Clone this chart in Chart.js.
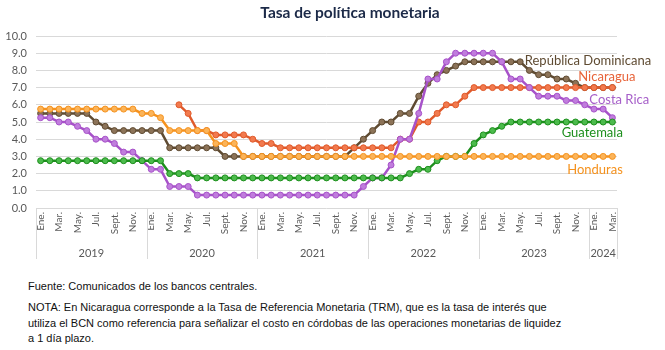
<!DOCTYPE html>
<html><head><meta charset="utf-8">
<script src="https://cdn.jsdelivr.net/npm/chart.js@4.4.1/dist/chart.umd.min.js"></script>
<style>
html,body{margin:0;padding:0;background:#fff;width:665px;height:350px;overflow:hidden;}
#wrap{position:absolute;left:0;top:0;width:665px;height:270px;}
#title{position:absolute;left:0;width:700px;top:3px;text-align:center;font:bold 15.5px Lato;color:#1c2a48;}
.foot{position:absolute;left:28px;font:11px "Liberation Sans Narrow","Liberation Sans";color:#111;white-space:nowrap;line-height:14px;}
</style></head>
<body>
<div id="wrap"><canvas id="c" width="665" height="270"></canvas></div>
<div id="title">Tasa de política monetaria</div>
<div class="foot" style="top:279px">Fuente: Comunicados de los bancos centrales.</div>
<div class="foot" style="top:300px">NOTA: En Nicaragua corresponde a la Tasa de Referencia Monetaria (TRM), que es la tasa de interés que</div>
<div class="foot" style="top:316px">utiliza el BCN como referencia para señalizar el costo en córdobas de las operaciones monetarias de liquidez</div>
<div class="foot" style="top:331px">a 1 día plazo.</div>
<script>
const monthTicks = ['Ene.','','Mar.','','May.','','Jul.','','Sept.','','Nov.',''];
const years = ['2019','2020','2021','2022','2023','2024'];
const monthsPerYear = [12,12,12,12,12,3];
const yTicks = [0,1,2,3,4,5,6,7,8,9,10];

const republicaDominicana = [
 5.5,5.5,5.5,5.5,5.5,5.5,5,4.75,4.5,4.5,4.5,4.5,
 4.5,4.5,3.5,3.5,3.5,3.5,3.5,3.5,3,3,3,3,
 3,3,3,3,3,3,3,3,3,3,3.5,4,
 4.5,5,5,5.5,5.5,6.5,7.25,7.75,8,8.25,8.5,8.5,
 8.5,8.5,8.5,8.5,8.5,8,7.75,7.75,7.5,7.5,7.25,7,
 7,7,7];
const nicaragua = [
 null,null,null,null,null,null,null,null,null,null,null,null,
 null,null,null,6,5.5,4.5,4.5,4.25,4.25,4.25,4.25,4,
 3.75,3.75,3.5,3.5,3.5,3.5,3.5,3.5,3.5,3.5,3.5,3.5,
 3.5,3.5,3.5,4,4,5,5,5.5,6,6,6.5,7,
 7,7,7,7,7,7,7,7,7,7,7,7,
 7,7,7];
const costaRica = [
 5.25,5.25,5,5,4.75,4.5,4,4,3.75,3.25,3.25,2.75,
 2.25,2.25,1.25,1.25,1.25,0.75,0.75,0.75,0.75,0.75,0.75,0.75,
 0.75,0.75,0.75,0.75,0.75,0.75,0.75,0.75,0.75,0.75,0.75,1.25,
 1.75,1.75,2.5,4,4,5.5,7.5,7.5,8.5,9,9,9,
 9,9,8.5,7.5,7.5,7,6.5,6.5,6.5,6.25,6.25,6,
 5.75,5.75,5.25];
const guatemala = [
 2.75,2.75,2.75,2.75,2.75,2.75,2.75,2.75,2.75,2.75,2.75,2.75,
 2.75,2.75,2,2,2,1.75,1.75,1.75,1.75,1.75,1.75,1.75,
 1.75,1.75,1.75,1.75,1.75,1.75,1.75,1.75,1.75,1.75,1.75,1.75,
 1.75,1.75,1.75,1.75,2,2.25,2.25,2.75,3,3,3,3.75,
 4.25,4.5,4.75,5,5,5,5,5,5,5,5,5,
 5,5,5];
const honduras = [
 5.75,5.75,5.75,5.75,5.75,5.75,5.75,5.75,5.75,5.75,5.75,5.5,
 5.5,5.25,4.5,4.5,4.5,4.5,4.5,3.75,3.75,3.75,3,3,
 3,3,3,3,3,3,3,3,3,3,3,3,
 3,3,3,3,3,3,3,3,3,3,3,3,
 3,3,3,3,3,3,3,3,3,3,3,3,
 3,3,3];

const labels = [];
years.forEach((y, k) => { for (let m = 0; m < monthsPerYear[k]; m++) labels.push(monthTicks[m]); });

function ds(label, data, line, fill) {
  return {label, data, borderColor: line, backgroundColor: fill, borderWidth: 2.5,
    pointRadius: 3, pointBorderWidth: 1, pointBackgroundColor: fill, pointBorderColor: line,
    tension: 0, spanGaps: false};
}
const datasets = [
  ds('Honduras', honduras, '#f5921e', '#fbb45a'),
  ds('Guatemala', guatemala, '#1d8f1d', '#4cbb4c'),
  ds('Costa Rica', costaRica, '#a752c9', '#c07ddd'),
  ds('Nicaragua', nicaragua, '#e05a2b', '#f27a4e'),
  ds('República Dominicana', republicaDominicana, '#5f4b32', '#8c7358')
];

const seriesLabels = [
  {text:'República Dominicana', color:'#5f4b32', idx:52.5, val:8.55},
  {text:'Nicaragua', color:'#e8643a', idx:58.3, val:7.62},
  {text:'Costa Rica', color:'#a65fc9', idx:59.5, val:6.28},
  {text:'Guatemala', color:'#1d8f1d', idx:56.5, val:4.36},
  {text:'Honduras', color:'#f5921e', idx:57.1, val:2.21}
];

const extras = {
  id: 'extras',
  afterDatasetsDraw(chart) {
    const ctx = chart.ctx, xs = chart.scales.x, ys = chart.scales.y;
    const n = labels.length;
    const x0 = xs.getPixelForValue(0), x1 = xs.getPixelForValue(n - 1);
    const step = (x1 - x0) / (n - 1);
    const left = x0 - step / 2;
    const bottom = chart.chartArea.bottom;
    ctx.save();
    ctx.strokeStyle = '#d9d9d9'; ctx.lineWidth = 1;
    let start = 0;
    const bounds = [0];
    monthsPerYear.forEach(m => { start += m; bounds.push(start); });
    bounds.forEach(b => {
      const px = Math.round(left + b * step) + 0.5;
      ctx.beginPath(); ctx.moveTo(px, bottom); ctx.lineTo(px, bottom + 51); ctx.stroke();
    });
    ctx.fillStyle = '#595959'; ctx.font = '11px Lato'; ctx.textAlign = 'center'; ctx.textBaseline = 'middle';
    years.forEach((y, k) => {
      const c = left + (bounds[k] + bounds[k + 1]) / 2 * step;
      ctx.fillText(y, c, bottom + 45);
    });
    ctx.font = '13px Lato'; ctx.textAlign = 'left';
    seriesLabels.forEach(s => {
      ctx.fillStyle = s.color;
      ctx.fillText(s.text, x0 + s.idx * step, ys.getPixelForValue(s.val));
    });
    ctx.restore();
  }
};

new Chart(document.getElementById('c'), {
  type: 'line',
  data: {labels, datasets},
  plugins: [extras],
  options: {
    responsive: false, animation: false,
    layout: {padding: {left: 0, right: 48, top: 36, bottom: 0}},
    plugins: {legend: {display: false}, title: {display: false}, tooltip: {enabled: false}},
    scales: {
      x: {type: 'category', offset: true,
        grid: {display: false, drawTicks: false}, border: {display: false},
        ticks: {autoSkip: false, minRotation: 90, maxRotation: 90, padding: 4,
          font: {family: 'Lato', size: 10}, color: '#595959'},
        afterFit(s) { s.height = 62; }},
      y: {min: 0, max: 10,
        grid: {color: '#d9d9d9', drawTicks: false}, border: {display: false},
        afterBuildTicks(s) { s.ticks = yTicks.map(v => ({value: v})); },
        ticks: {padding: 9, callback: v => Number(v).toFixed(1),
          font: {family: 'Lato', size: 11}, color: '#595959'},
        afterFit(s) { s.width = 36; }}
    }
  }
});
</script>
</body></html>
